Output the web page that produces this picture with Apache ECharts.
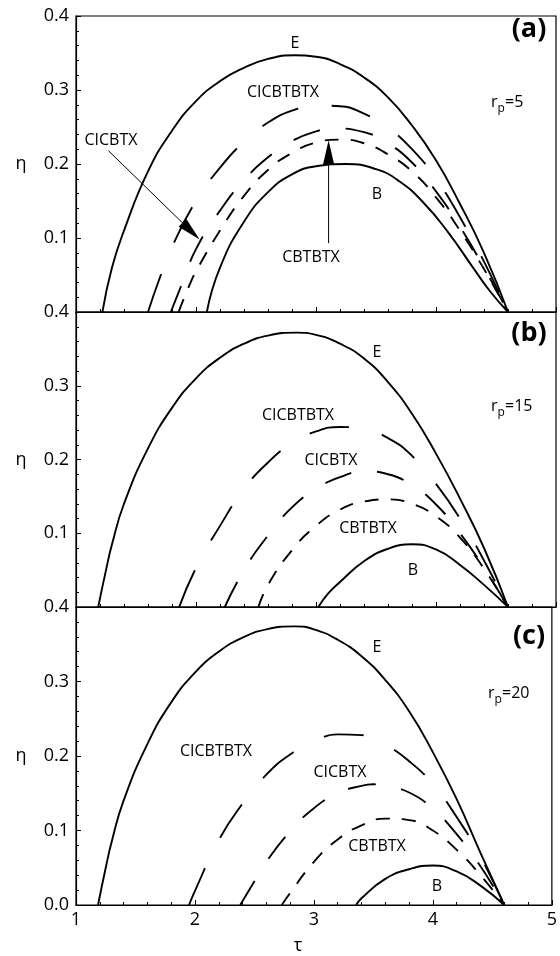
<!DOCTYPE html>
<html>
<head>
<meta charset="utf-8">
<script src="https://cdn.jsdelivr.net/npm/echarts@6/dist/echarts.min.js"></script>
<style>
html, body { margin: 0; padding: 0; background: #fff; }
#chart { width: 560px; height: 956px; }
</style>
</head>
<body>
<div id="chart"></div>
<script>
// [tau, eta] points
var E_A = [[1.22,0],[1.3,0.06],[1.4,0.11],[1.6,0.19],[1.8,0.245],[2.0,0.285],[2.2,0.312],[2.4,0.33],[2.6,0.342],[2.82,0.347],[3.0,0.345],[3.2,0.335],[3.4,0.317],[3.6,0.29],[3.8,0.252],[4.0,0.205],[4.2,0.146],[4.4,0.08],[4.6,0]];
var CICBTBTX_A = [[1.6,0],[1.7,0.047],[1.8,0.088],[2.0,0.15],[2.2,0.195],[2.4,0.23],[2.6,0.256],[2.8,0.272],[3.0,0.279],[3.2,0.278],[3.4,0.268],[3.6,0.249],[3.8,0.22],[4.0,0.18],[4.2,0.128],[4.4,0.068],[4.6,0]];
var CICBTX_A = [[1.79,0],[1.9,0.045],[2.0,0.085],[2.2,0.137],[2.4,0.178],[2.6,0.209],[2.8,0.231],[3.0,0.244],[3.15,0.248],[3.4,0.243],[3.6,0.228],[3.8,0.202],[4.0,0.163],[4.2,0.115],[4.4,0.06],[4.6,0]];
var CBTBTX_A = [[1.855,0],[1.95,0.038],[2.0,0.055],[2.2,0.11],[2.4,0.157],[2.6,0.192],[2.8,0.215],[3.0,0.229],[3.2,0.233],[3.4,0.228],[3.6,0.213],[3.8,0.19],[4.0,0.155],[4.2,0.11],[4.4,0.058],[4.6,0]];
var B_A = [[2.09,0],[2.2,0.06],[2.4,0.122],[2.6,0.162],[2.8,0.186],[3.0,0.197],[3.25,0.2],[3.5,0.193],[3.7,0.176],[3.9,0.147],[4.1,0.108],[4.3,0.062],[4.45,0.028],[4.6,0]];

var E_B = [[1.185,0],[1.25,0.05],[1.3,0.085],[1.4,0.14],[1.6,0.215],[1.8,0.27],[2.0,0.31],[2.2,0.338],[2.4,0.357],[2.6,0.368],[2.84,0.372],[3.0,0.369],[3.2,0.357],[3.4,0.337],[3.6,0.305],[3.8,0.262],[4.0,0.208],[4.2,0.147],[4.4,0.08],[4.6,0]];
var CICBTBTX_B = [[1.86,0],[2.0,0.053],[2.2,0.11],[2.4,0.16],[2.6,0.196],[2.8,0.222],[3.0,0.238],[3.2,0.244],[3.4,0.241],[3.6,0.229],[3.8,0.205],[4.0,0.167],[4.2,0.12],[4.4,0.063],[4.6,0]];
var CICBTX_B = [[2.24,0],[2.4,0.05],[2.6,0.097],[2.8,0.135],[3.0,0.16],[3.2,0.176],[3.4,0.184],[3.6,0.18],[3.8,0.165],[4.0,0.139],[4.2,0.1],[4.4,0.053],[4.6,0]];
var CBTBTX_B = [[2.52,0],[2.6,0.03],[2.8,0.077],[3.0,0.11],[3.2,0.132],[3.4,0.143],[3.6,0.146],[3.8,0.14],[4.0,0.123],[4.2,0.094],[4.4,0.052],[4.6,0]];
var B_B = [[3.02,0],[3.1,0.018],[3.2,0.034],[3.4,0.062],[3.6,0.079],[3.8,0.085],[4.0,0.078],[4.2,0.057],[4.4,0.03],[4.6,0]];

var E_C = [[1.185,0],[1.25,0.05],[1.3,0.085],[1.4,0.14],[1.6,0.216],[1.8,0.272],[2.0,0.312],[2.2,0.34],[2.4,0.359],[2.6,0.37],[2.84,0.374],[3.0,0.37],[3.2,0.356],[3.4,0.334],[3.6,0.302],[3.8,0.26],[4.0,0.205],[4.2,0.142],[4.4,0.07],[4.6,0]];
var CICBTBTX_C = [[1.95,0],[2.0,0.019],[2.2,0.087],[2.4,0.136],[2.6,0.175],[2.8,0.202],[3.0,0.219],[3.2,0.229],[3.4,0.228],[3.6,0.215],[3.8,0.193],[4.0,0.162],[4.2,0.118],[4.4,0.065],[4.6,0]];
var CICBTX_C = [[2.38,0],[2.5,0.032],[2.6,0.058],[2.8,0.099],[3.0,0.13],[3.2,0.15],[3.4,0.16],[3.5,0.162],[3.6,0.16],[3.8,0.151],[4.0,0.129],[4.2,0.095],[4.4,0.052],[4.6,0]];
var CBTBTX_C = [[2.73,0],[2.8,0.016],[3.0,0.058],[3.2,0.088],[3.4,0.107],[3.6,0.116],[3.8,0.114],[4.0,0.1],[4.2,0.074],[4.4,0.04],[4.6,0]];
var B_C = [[3.355,0],[3.4,0.009],[3.6,0.035],[3.8,0.048],[4.0,0.053],[4.2,0.045],[4.4,0.026],[4.6,0]];

// arrows in panel (a): [tau0, eta0, tau1, eta1], head at the second point
var ARROWS_A = [[1.27,0.218,2.03,0.098],[3.105,0.093,3.105,0.232]];

var PANEL_TAGS = ['(a)', '(b)', '(c)'];
var RP_VALUES = ['5', '15', '20'];
var TAU_TICKS = [1, 2, 3, 4, 5];
var ETA_TICKS = [0.0, 0.1, 0.2, 0.3, 0.4];

var panels = [
    { E: E_A, CICBTBTX: CICBTBTX_A, CICBTX: CICBTX_A, CBTBTX: CBTBTX_A, B: B_A },
    { E: E_B, CICBTBTX: CICBTBTX_B, CICBTX: CICBTX_B, CBTBTX: CBTBTX_B, B: B_B },
    { E: E_C, CICBTBTX: CICBTBTX_C, CICBTX: CICBTX_C, CBTBTX: CBTBTX_C, B: B_C }
];

var FONT = "'Open Sans', sans-serif";
var chartDom = document.getElementById('chart');
var chart = echarts.init(chartDom);

var gridTops = [16, 312, 607];
var gridHeights = [296, 295, 298];
var curveStyles = {
    E: 'solid',
    CICBTBTX: [40, 34],
    CICBTX: [28, 26],
    CBTBTX: [14, 12],
    B: 'solid'
};

var grids = [], xAxes = [], yAxes = [], series = [];
panels.forEach(function (p, i) {
    grids.push({
        left: 76, right: 4, top: gridTops[i], height: gridHeights[i],
        show: true, borderColor: '#000', borderWidth: 1.2
    });
    xAxes.push({
        type: 'value', gridIndex: i,
        min: TAU_TICKS[0], max: TAU_TICKS[TAU_TICKS.length - 1], interval: 1,
        axisLine: { lineStyle: { color: '#000', width: 1.2 } },
        axisTick: { inside: true, length: 5, lineStyle: { color: '#000' } },
        minorTick: { show: true, splitNumber: 5, length: 3, lineStyle: { color: '#000' } },
        splitLine: { show: false },
        axisLabel: { show: i === 2, color: '#000', fontSize: 18, fontFamily: FONT, margin: 6 }
    });
    yAxes.push({
        type: 'value', gridIndex: i,
        min: ETA_TICKS[0], max: ETA_TICKS[ETA_TICKS.length - 1], interval: 0.1,
        axisLine: { lineStyle: { color: '#000', width: 1.2 } },
        axisTick: { inside: true, length: 5, lineStyle: { color: '#000' } },
        minorTick: { show: true, splitNumber: 5, length: 3, lineStyle: { color: '#000' } },
        splitLine: { show: false },
        axisLabel: {
            color: '#000', fontSize: 18, fontFamily: FONT, margin: 7,
            showMinLabel: i === 2,
            formatter: function (v) { return v.toFixed(1); }
        }
    });
    Object.keys(curveStyles).forEach(function (name) {
        series.push({
            name: name + ' ' + PANEL_TAGS[i],
            type: 'line',
            xAxisIndex: i, yAxisIndex: i,
            data: p[name],
            smooth: 0.5,
            symbol: 'none',
            silent: true,
            lineStyle: { color: '#000', width: 1.9, type: curveStyles[name], cap: 'butt' }
        });
    });
});

// arrows
series.push({
    type: 'custom',
    xAxisIndex: 0, yAxisIndex: 0,
    silent: true,
    data: ARROWS_A,
    encode: { x: [0, 2], y: [1, 3] },
    renderItem: function (params, api) {
        var p1 = api.coord([api.value(0), api.value(1)]);
        var p2 = api.coord([api.value(2), api.value(3)]);
        var dx = p2[0] - p1[0], dy = p2[1] - p1[1];
        var len = Math.sqrt(dx * dx + dy * dy);
        var ux = dx / len, uy = dy / len;
        var hl = 24, hw = 5.5;
        var bx = p2[0] - ux * hl, by = p2[1] - uy * hl;
        return {
            type: 'group',
            children: [{
                type: 'line',
                shape: { x1: p1[0], y1: p1[1], x2: bx, y2: by },
                style: { stroke: '#000', lineWidth: 1 }
            }, {
                type: 'polygon',
                shape: { points: [[p2[0], p2[1]], [bx - uy * hw, by + ux * hw], [bx + uy * hw, by - ux * hw]] },
                style: { fill: '#000' }
            }]
        };
    }
});

function txt(text, x, y, size, weight, align) {
    return {
        type: 'text', x: x, y: y, silent: true,
        style: {
            text: text, fill: '#000',
            font: (weight || 'normal') + ' ' + size + 'px ' + FONT,
            align: align || 'center', verticalAlign: 'middle'
        }
    };
}

var graphics = [];
// curve labels
graphics.push(txt('E', 295, 43, 16));
graphics.push(txt('CICBTBTX', 283, 92, 16));
graphics.push(txt('CICBTX', 111, 140, 16));
graphics.push(txt('B', 377, 194, 16));
graphics.push(txt('CBTBTX', 311, 257, 16));

graphics.push(txt('E', 377, 352, 16));
graphics.push(txt('CICBTBTX', 298, 415, 16));
graphics.push(txt('CICBTX', 331, 460, 16));
graphics.push(txt('CBTBTX', 368, 528, 16));
graphics.push(txt('B', 413, 570, 16));

graphics.push(txt('E', 377, 647, 16));
graphics.push(txt('CICBTBTX', 216, 751, 16));
graphics.push(txt('CICBTX', 340, 772, 16));
graphics.push(txt('CBTBTX', 377, 846, 16));
graphics.push(txt('B', 437, 886, 16));

// panel tags and r_p values
var tagY = [29, 333, 636];
var rpX = [491, 491, 488];
var rpY = [102, 406, 693];
PANEL_TAGS.forEach(function (t, i) {
    graphics.push(txt(t, 529, tagY[i], 27, 'bold'));
    graphics.push(txt('r', rpX[i], rpY[i], 16, 'normal', 'left'));
    graphics.push(txt('p', rpX[i] + 6.5, rpY[i] + 7, 12, 'normal', 'left'));
    graphics.push(txt('=' + RP_VALUES[i], rpX[i] + 14, rpY[i], 16, 'normal', 'left'));
    // eta axis name, level with the 0.2 tick label
    graphics.push(txt('η', 21, gridTops[i] + gridHeights[i] / 2, 18));
});
graphics.push(txt('τ', 298, 946, 18));

chart.setOption({
    animation: false,
    backgroundColor: '#fff',
    grid: grids,
    xAxis: xAxes,
    yAxis: yAxes,
    series: series,
    graphic: graphics
});
</script>
</body>
</html>
